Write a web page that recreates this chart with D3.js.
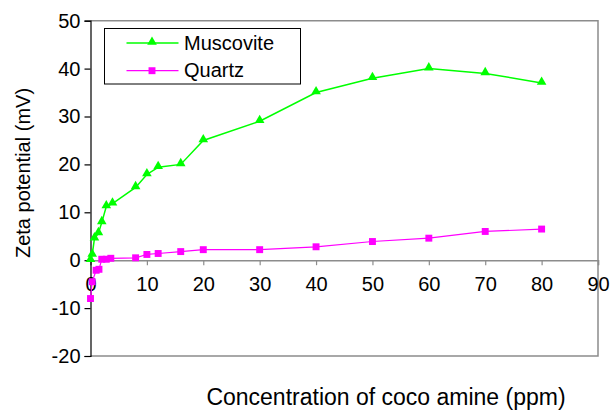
<!DOCTYPE html>
<html>
<head>
<meta charset="utf-8">
<script src="https://cdn.jsdelivr.net/npm/d3@7"></script>
<style>
  html, body { margin: 0; padding: 0; background: #fff; }
  svg text { font-family: "Liberation Sans", Arial, sans-serif; }
</style>
</head>
<body>
<svg id="chart" width="612" height="412"></svg>
<script>
// Zeta potential vs. collector concentration
const muscoviteConc = [0, 0.3, 0.7, 1.4, 2, 2.8, 3.9, 8, 10, 12, 16, 20, 30, 40, 50, 60, 70, 80];
const muscoviteZeta = [0, 1.1, 4.5, 5.6, 7.9, 11.2, 11.8, 15.2, 17.9, 19.4, 20, 25, 29, 35, 38, 40, 39, 37];
const quartzConc = [0, 0.3, 1, 1.5, 2, 2.8, 3.6, 8, 10, 12, 16, 20, 30, 40, 50, 60, 70, 80];
const quartzZeta = [-8, -4.5, -2.1, -1.9, 0.2, 0.2, 0.4, 0.5, 1.2, 1.4, 1.8, 2.2, 2.2, 2.8, 3.9, 4.6, 6, 6.5];
const xTicks = [0, 10, 20, 30, 40, 50, 60, 70, 80, 90];
const yTicks = [-20, -10, 0, 10, 20, 30, 40, 50];
const seriesNames = ["Muscovite", "Quartz"];

(function draw() {
  const svg = d3.select("#chart");
  const pLeft = 90.5, pRight = 598, pTop = 20.7, pBottom = 356;
  const FONT = "Liberation Sans, Arial, sans-serif";
  const plain = d => String(d);  // hyphen-minus for negative values

  const x = d3.scaleLinear().domain([0, 90]).range([pLeft, pRight]);
  const y = d3.scaleLinear().domain([-20, 50]).range([pBottom, pTop]);

  // plot frame (grey on top, right, bottom)
  svg.append("path")
    .attr("d", `M${pLeft},${pTop}H${pRight}V${pBottom}H${pLeft}`)
    .attr("fill", "none").attr("stroke", "#8c8c8c").attr("stroke-width", 1.5);

  // x axis along zero line
  const xAxis = d3.axisBottom(x).tickValues(xTicks).tickSize(5).tickPadding(12).tickFormat(plain);
  const gx = svg.append("g").attr("transform", `translate(0,${y(0)})`).call(xAxis);
  gx.select(".domain").attr("stroke", "#8c8c8c").attr("stroke-width", 1.5);
  gx.selectAll(".tick line").attr("stroke", "#8c8c8c").attr("stroke-width", 1.2);
  gx.selectAll(".tick text").attr("font-size", 20).attr("fill", "#000").attr("font-family", FONT);

  // y axis
  const yAxis = d3.axisLeft(y).tickValues(yTicks).tickSize(6).tickPadding(4).tickFormat(plain);
  const gy = svg.append("g").attr("transform", `translate(${pLeft},0)`).call(yAxis);
  gy.select(".domain").attr("stroke", "#000").attr("stroke-width", 1.2);
  gy.selectAll(".tick line").attr("stroke", "#000").attr("stroke-width", 1.2);
  gy.selectAll(".tick text").attr("font-size", 20).attr("fill", "#000").attr("font-family", FONT);

  // axis titles
  svg.append("text")
    .attr("transform", "translate(30,173) rotate(-90)")
    .attr("text-anchor", "middle").attr("font-size", 20)
    .text("Zeta potential (mV)");
  svg.append("text")
    .attr("x", 386).attr("y", 405)
    .attr("text-anchor", "middle").attr("font-size", 23)
    .text("Concentration of coco amine (ppm)");

  const line = d3.line().x(d => x(d[0])).y(d => y(d[1]));
  const tri = d3.symbol().type(d3.symbolTriangle).size(40);
  const sq = d3.symbol().type(d3.symbolSquare).size(48);

  const muscovite = muscoviteConc.map((c, i) => [c, muscoviteZeta[i]]);
  const quartz = quartzConc.map((c, i) => [c, quartzZeta[i]]);

  // Quartz series
  svg.append("path").datum(quartz).attr("d", line)
    .attr("fill", "none").attr("stroke", "#ff00ff").attr("stroke-width", 1.2);
  svg.selectAll(".q").data(quartz).enter().append("path")
    .attr("transform", d => `translate(${x(d[0])},${y(d[1])})`)
    .attr("d", sq).attr("fill", "#ff00ff");

  // Muscovite series
  svg.append("path").datum(muscovite).attr("d", line)
    .attr("fill", "none").attr("stroke", "#00ff00").attr("stroke-width", 1.5);
  svg.selectAll(".m").data(muscovite).enter().append("path")
    .attr("transform", d => `translate(${x(d[0])},${y(d[1]) - 1})`)
    .attr("d", tri).attr("fill", "#00ff00");

  // legend
  const lg = svg.append("g");
  lg.append("rect").attr("x", 104.5).attr("y", 28.5).attr("width", 196).attr("height", 55.5)
    .attr("fill", "#fff").attr("stroke", "#000").attr("stroke-width", 1);
  const legendItems = [
    { name: seriesNames[0], color: "#00ff00", sym: tri, w: 1.5 },
    { name: seriesNames[1], color: "#ff00ff", sym: sq, w: 1.2 }
  ];
  legendItems.forEach((it, i) => {
    const yy = 43 + i * 27.7;
    lg.append("line").attr("x1", 126.5).attr("x2", 178.5).attr("y1", yy).attr("y2", yy)
      .attr("stroke", it.color).attr("stroke-width", it.w);
    lg.append("path").attr("transform", `translate(152,${yy - (i === 0 ? 1 : 0)})`)
      .attr("d", it.sym).attr("fill", it.color);
    lg.append("text").attr("x", 184).attr("y", yy + 6.5).attr("font-size", 20).text(it.name);
  });
})();
</script>
</body>
</html>
